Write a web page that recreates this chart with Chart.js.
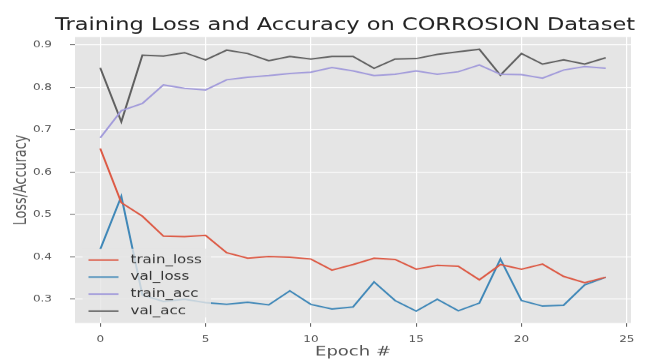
<!DOCTYPE html>
<html>
<head>
<meta charset="utf-8">
<script src="https://cdn.jsdelivr.net/npm/chart.js@4.4.1/dist/chart.umd.min.js"></script>
<style>
  html, body { margin: 0; padding: 0; background: #fff; overflow: hidden; }
  #wrap { width: 648px; height: 360px; overflow: hidden; }
  /* the figure is laid out at 648x480 and shown squeezed to 360 px high */
  #c { display: block; transform: scaleY(0.75); transform-origin: 0 0; }
</style>
</head>
<body>
<div id="wrap"><canvas id="c" width="648" height="480"></canvas></div>
<script>
const titleText = 'Training Loss and Accuracy on CORROSION Dataset';

const epochs = [0, 1, 2, 3, 4, 5, 6, 7, 8, 9, 10, 11, 12, 13, 14, 15, 16, 17, 18, 19, 20, 21, 22, 23, 24];

const trainLoss = [0.656, 0.528, 0.496, 0.449, 0.448, 0.451, 0.410, 0.397, 0.401, 0.399, 0.395, 0.369, 0.382,
                   0.397, 0.394, 0.371, 0.380, 0.378, 0.346, 0.382, 0.371, 0.383, 0.354, 0.339, 0.352];
const valLoss   = [0.418, 0.543, 0.310, 0.295, 0.300, 0.292, 0.288, 0.293, 0.287, 0.320, 0.288, 0.277, 0.282,
                   0.341, 0.297, 0.272, 0.300, 0.273, 0.291, 0.395, 0.297, 0.284, 0.286, 0.334, 0.352];
const trainAcc  = [0.681, 0.745, 0.762, 0.806, 0.798, 0.794, 0.818, 0.824, 0.828, 0.833, 0.836, 0.847, 0.839,
                   0.828, 0.831, 0.839, 0.831, 0.837, 0.853, 0.831, 0.830, 0.822, 0.841, 0.849, 0.845];
const valAcc    = [0.846, 0.719, 0.876, 0.874, 0.882, 0.865, 0.888, 0.880, 0.863, 0.873, 0.867, 0.873, 0.873,
                   0.845, 0.867, 0.868, 0.878, 0.884, 0.890, 0.829, 0.880, 0.855, 0.865, 0.855, 0.870];

const xTicks = [0, 5, 10, 15, 20, 25];
const yTicks = [0.3, 0.4, 0.5, 0.6, 0.7, 0.8, 0.9];

const seriesNames  = ['train_loss', 'val_loss', 'train_acc', 'val_acc'];
const seriesColors = ['#DD5A45', '#4088B8', '#A29BDB', '#606060'];
const seriesValues = [trainLoss, valLoss, trainAcc, valAcc];

const FONT = 'DejaVu Sans';

// figure white, axes panel light grey (ggplot look)
const panelPlugin = {
  id: 'panel',
  beforeDraw(chart) {
    const { ctx, chartArea: a } = chart;
    ctx.save();
    ctx.fillStyle = '#ffffff';
    ctx.fillRect(0, 0, chart.width, chart.height);
    ctx.fillStyle = '#E5E5E5';
    ctx.fillRect(a.left, a.top, a.right - a.left, a.bottom - a.top);
    ctx.restore();
  }
};

// centre the title over the plot panel rather than the whole canvas
const titleCenter = {
  id: 'titleCenter',
  afterLayout(chart) {
    const t = chart.titleBlock;
    if (!t) return;
    const target = 345;
    const d = target - (t.left + t.right) / 2;
    t.left += d;
    t.right += d;
  }
};

// legend box in the lower-left corner of the panel
const panelLegend = {
  id: 'panelLegend',
  afterDatasetsDraw(chart) {
    const { ctx, chartArea: a } = chart;
    const fs = 15;
    const x0 = a.left + 7.5, x1 = 211;
    const y1 = a.bottom - 7.5, y0 = 331.7;
    const rowGap = 22.7;
    const firstRow = 346.7;
    ctx.save();
    ctx.fillStyle = 'rgba(229,229,229,0.8)';
    ctx.fillRect(x0, y0, x1 - x0, y1 - y0);
    ctx.font = fs + 'px "' + FONT + '"';
    ctx.textBaseline = 'middle';
    ctx.textAlign = 'left';
    chart.data.datasets.forEach((ds, i) => {
      const y = firstRow + i * rowGap;
      ctx.strokeStyle = ds.borderColor;
      ctx.lineWidth = 2;
      ctx.beginPath();
      ctx.moveTo(x0 + 6, y);
      ctx.lineTo(x0 + 6 + 30, y);
      ctx.stroke();
      ctx.fillStyle = '#333333';
      ctx.fillText(ds.label, x0 + 6 + 30 + 12, y);
    });
    ctx.restore();
  }
};

const datasets = seriesNames.map((name, k) => ({
  label: name,
  data: epochs.map((e, i) => ({ x: e, y: seriesValues[k][i] })),
  borderColor: seriesColors[k],
  backgroundColor: seriesColors[k],
  borderWidth: 2,
  pointRadius: 0,
  tension: 0,
  fill: false
}));

new Chart(document.getElementById('c'), {
  type: 'line',
  data: { datasets },
  options: {
    responsive: false,
    animation: false,
    devicePixelRatio: 1,
    layout: { padding: { top: 0, left: 0, right: 17, bottom: 0 } },
    plugins: {
      legend: { display: false },
      tooltip: { enabled: false },
      title: {
        display: true,
        text: titleText,
        color: '#222222',
        font: { family: FONT, size: 22.5, weight: 'normal' },
        padding: { top: 21, bottom: 1.3 }
      }
    },
    scales: {
      x: {
        type: 'linear',
        min: -1.2,
        max: 25.2,
        afterBuildTicks: s => { s.ticks = xTicks.map(v => ({ value: v })); },
        afterFit: s => { s.height = 49.3; },
        grid: { color: '#ffffff', lineWidth: 1.2, drawTicks: true, tickLength: 5, tickColor: '#555555', tickWidth: 1 },
        border: { display: false },
        ticks: {
          color: '#555555',
          font: { family: FONT, size: 12 },
          padding: 10,
          maxRotation: 0,
          autoSkip: false,
          callback: v => String(v)
        },
        title: {
          display: true,
          text: 'Epoch #',
          color: '#555555',
          font: { family: FONT, size: 18 },
          padding: { top: 0, bottom: 0 }
        }
      },
      y: {
        type: 'linear',
        min: 0.244,
        max: 0.919,
        afterBuildTicks: s => { s.ticks = yTicks.map(v => ({ value: v })); },
        afterFit: s => { s.width = 75; },
        grid: { color: '#ffffff', lineWidth: 1.2, drawTicks: true, tickLength: 5, tickColor: '#555555', tickWidth: 1 },
        border: { display: false },
        ticks: {
          color: '#555555',
          font: { family: FONT, size: 12 },
          padding: 18,
          callback: v => v.toFixed(1)
        },
        title: {
          display: true,
          text: 'Loss/Accuracy',
          color: '#555555',
          font: { family: FONT, size: 17 },
          padding: { top: 11, bottom: 0 }
        }
      }
    }
  },
  plugins: [panelPlugin, titleCenter, panelLegend]
});
</script>
</body>
</html>
